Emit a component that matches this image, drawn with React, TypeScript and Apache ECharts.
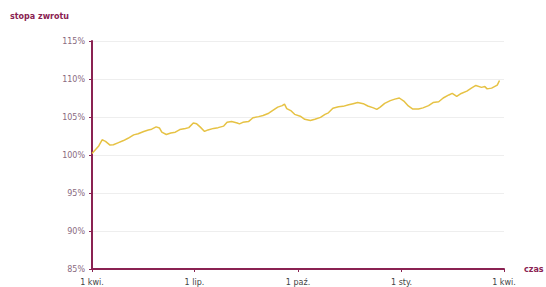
import React, { useEffect, useRef } from "react";
import * as echarts from "echarts";

const startYear = 2023;
const startMonth = 3; // April (0-based)
const dayOffsets = [
  0, 3, 6, 9, 12, 16, 19, 23, 28, 32, 37, 41, 46, 50, 53, 57, 60, 62, 66, 70,
  74, 78, 83, 86, 90, 93, 96, 100, 103, 108, 112, 117, 120, 124, 129, 131, 134,
  139, 143, 148, 152, 157, 161, 165, 169, 171, 173, 177, 180, 185, 189, 194,
  198, 203, 207, 210, 214, 219, 223, 228, 232, 236, 241, 245, 250, 253, 256,
  260, 265, 269, 273, 277, 281, 285, 290, 294, 299, 303, 308, 312, 317, 320,
  324, 328, 333, 337, 341, 346, 349, 351, 355, 360, 362,
];
const returns = [
  100.2, 100.7, 101.2, 102.0, 101.8, 101.3, 101.35, 101.6, 101.9, 102.2,
  102.65, 102.8, 103.1, 103.3, 103.4, 103.7, 103.55, 103.0, 102.7, 102.9,
  103.0, 103.35, 103.5, 103.6, 104.2, 104.1, 103.7, 103.1, 103.3, 103.5,
  103.6, 103.8, 104.3, 104.4, 104.2, 104.1, 104.3, 104.4, 104.9, 105.05,
  105.2, 105.5, 105.9, 106.3, 106.5, 106.7, 106.1, 105.8, 105.35, 105.1,
  104.7, 104.55, 104.7, 104.95, 105.35, 105.55, 106.15, 106.35, 106.4, 106.6,
  106.75, 106.9, 106.75, 106.45, 106.2, 106.0, 106.3, 106.8, 107.15, 107.35,
  107.5, 107.1, 106.45, 106.05, 106.05, 106.2, 106.5, 106.9, 107.0, 107.5,
  107.9, 108.1, 107.7, 108.1, 108.4, 108.8, 109.15, 108.9, 109.0, 108.7,
  108.8, 109.2, 109.8,
];
const monthNames = ["sty", "lut", "mar", "kwi", "maj", "cze", "lip", "sie", "wrz", "paź", "lis", "gru"];
const yTicks = { min: 85, max: 115, interval: 5 };
const titleText = "stopa zwrotu";
const xName = "czas";

const maroon = "#8a2252";

export default function App() {
  const ref = useRef<HTMLDivElement>(null);
  useEffect(() => {
    document.body.style.margin = "0";
    document.body.style.overflow = "hidden";
    if (!ref.current) return;
    const chart = echarts.init(ref.current, null, { renderer: "svg" });
    const data = dayOffsets.map((d, i) => [
      new Date(startYear, startMonth, 1 + d).getTime(),
      returns[i],
    ]);
    const minT = new Date(startYear, startMonth, 1).getTime();
    const maxT = new Date(startYear + 1, startMonth, 1).getTime();
    chart.setOption({
      animation: false,
      backgroundColor: "#ffffff",
      textStyle: { fontFamily: "DejaVu Sans" },
      title: {
        text: titleText,
        left: 10,
        top: 12,
        padding: 0,
        textStyle: { fontSize: 8, fontWeight: "bold", color: maroon, fontFamily: "DejaVu Sans" },
      },
      grid: {
        left: 92,
        right: 42,
        top: 41,
        bottom: 18,
        containLabel: false,
        outerBoundsMode: "none",
      },
      xAxis: {
        type: "time",
        min: minT,
        max: maxT,
        splitNumber: 4,
        name: xName,
        nameLocation: "end",
        nameGap: 20,
        nameTextStyle: { fontSize: 8, fontWeight: "bold", color: maroon, verticalAlign: "middle" },
        axisLine: { lineStyle: { color: maroon, width: 2 } },
        axisTick: { show: true, length: 3, lineStyle: { color: maroon, width: 1 } },
        splitLine: { show: false },
        axisLabel: {
          color: "#444",
          fontSize: 8,
          margin: 9,
          hideOverlap: false,
          formatter: (v: number) => {
            const d = new Date(v);
            return d.getDate() + " " + monthNames[d.getMonth()] + ".";
          },
        },
      },
      yAxis: {
        type: "value",
        min: yTicks.min,
        max: yTicks.max,
        interval: yTicks.interval,
        axisLine: { show: true, lineStyle: { color: maroon, width: 2 } },
        axisTick: { show: true, length: 3, lineStyle: { color: maroon } },
        splitLine: { show: true, lineStyle: { color: "#eeeeee", width: 1 } },
        axisLabel: {
          color: "#8a6a80",
          fontSize: 8,
          margin: 7,
          formatter: (v: number) => v + "%",
        },
      },
      series: [
        {
          type: "line",
          data,
          showSymbol: false,
          symbol: "none",
          lineStyle: { color: "#e6c244", width: 1.5 },
        },
      ],
    });
    return () => chart.dispose();
  }, []);
  return <div ref={ref} style={{ width: 546, height: 287 }} />;
}
